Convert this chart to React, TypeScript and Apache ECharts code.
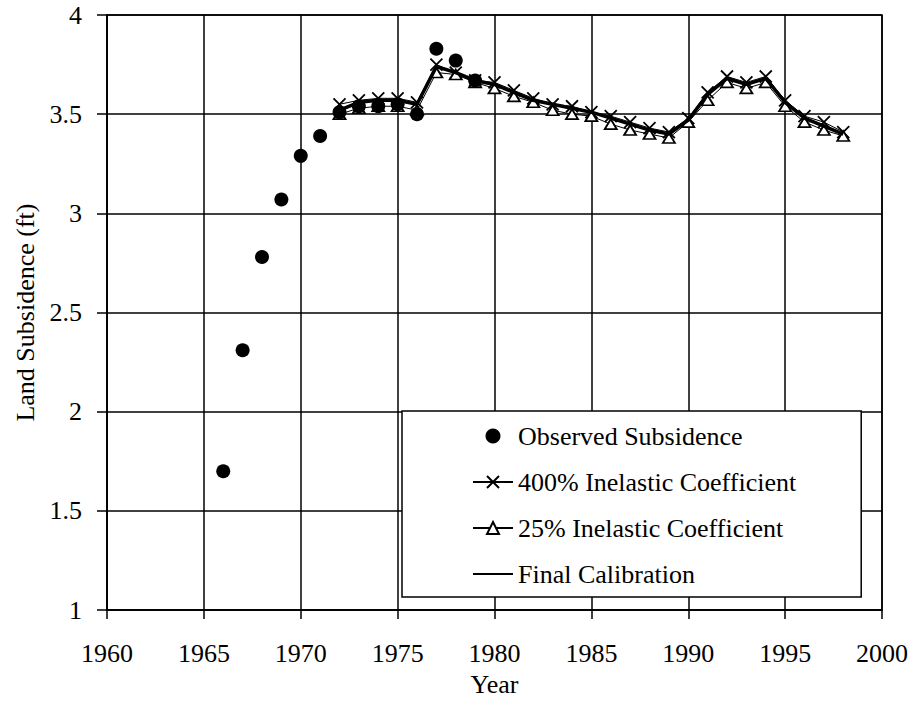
import React, { useEffect, useRef } from "react";
import * as echarts from "echarts";

// Observed land subsidence (ft)
const observedYears = [1966, 1967, 1968, 1969, 1970, 1971, 1972, 1973, 1974, 1975, 1976, 1977, 1978, 1979];
const observedValues = [1.70, 2.31, 2.78, 3.07, 3.29, 3.39, 3.51, 3.54, 3.54, 3.55, 3.50, 3.83, 3.77, 3.67];

// Simulated subsidence, 1972-1998
const modelYears = [
  1972, 1973, 1974, 1975, 1976, 1977, 1978, 1979, 1980, 1981, 1982, 1983, 1984, 1985,
  1986, 1987, 1988, 1989, 1990, 1991, 1992, 1993, 1994, 1995, 1996, 1997, 1998,
];
const finalCalibration = [
  3.52, 3.56, 3.57, 3.57, 3.55, 3.74, 3.71, 3.67, 3.65, 3.61, 3.57, 3.55, 3.53, 3.51,
  3.48, 3.45, 3.42, 3.40, 3.47, 3.60, 3.68, 3.65, 3.68, 3.56, 3.48, 3.44, 3.40,
];
const inelastic400 = [
  3.55, 3.57, 3.58, 3.58, 3.56, 3.75, 3.71, 3.67, 3.66, 3.62, 3.58, 3.55, 3.54, 3.51,
  3.49, 3.46, 3.43, 3.41, 3.48, 3.61, 3.69, 3.66, 3.69, 3.57, 3.49, 3.46, 3.41,
];
const inelastic25 = [
  3.50, 3.53, 3.54, 3.54, 3.52, 3.71, 3.70, 3.66, 3.63, 3.59, 3.56, 3.52, 3.50, 3.49,
  3.45, 3.42, 3.40, 3.38, 3.46, 3.57, 3.66, 3.63, 3.66, 3.54, 3.46, 3.42, 3.39,
];

const FONT = "'Liberation Serif', 'Times New Roman', serif";
const CROSS = "path://M0,0L10,10M10,0L0,10";

const pairs = (xs: number[], ys: number[]) => xs.map((x, i) => [x, ys[i]]);

export default function App() {
  const ref = useRef<HTMLDivElement>(null);

  useEffect(() => {
    if (!ref.current) return;
    const chart = echarts.init(ref.current, undefined, { renderer: "svg" });
    chart.setOption({
      animation: false,
      backgroundColor: "#fff",
      textStyle: { fontFamily: FONT, color: "#000" },
      grid: {
        left: 107,
        right: 33,
        top: 15,
        bottom: 89,
        show: true,
        borderColor: "#000",
        borderWidth: 1.5,
        backgroundColor: "transparent",
      },
      xAxis: {
        type: "value",
        min: 1960,
        max: 2000,
        interval: 5,
        name: "Year",
        nameLocation: "middle",
        nameGap: 57,
        nameTextStyle: { fontFamily: FONT, fontSize: 26, color: "#000" },
        axisLine: { lineStyle: { color: "#000", width: 1.5 } },
        axisTick: { show: true, length: 9, lineStyle: { color: "#000", width: 1.5 } },
        axisLabel: {
          fontFamily: FONT,
          fontSize: 26,
          color: "#000",
          margin: 30,
          formatter: (v: number) => String(v),
        },
        splitLine: { show: true, lineStyle: { color: "#000", width: 1.5 } },
      },
      yAxis: {
        type: "value",
        min: 1,
        max: 4,
        interval: 0.5,
        name: "Land Subsidence (ft)",
        nameLocation: "middle",
        nameGap: 69,
        nameTextStyle: { fontFamily: FONT, fontSize: 26, color: "#000" },
        axisLine: { show: true, lineStyle: { color: "#000", width: 1.5 } },
        axisTick: { show: true, length: 10, lineStyle: { color: "#000", width: 1.5 } },
        axisLabel: { fontFamily: FONT, fontSize: 26, color: "#000", margin: 25 },
        splitLine: { show: true, lineStyle: { color: "#000", width: 1.5 } },
      },
      legend: {
        show: true,
        orient: "vertical",
        left: 402,
        top: 411,
        backgroundColor: "#fff",
        borderColor: "#000",
        borderWidth: 1.5,
        borderRadius: 0,
        padding: [12, 65, 10, 70],
        itemWidth: 40,
        itemHeight: 15,
        itemGap: 20,
        textStyle: { fontFamily: FONT, fontSize: 26, color: "#000" },
        data: [
          { name: "Observed Subsidence" },
          { name: "400% Inelastic Coefficient" },
          { name: "25% Inelastic Coefficient" },
          { name: "Final Calibration", itemStyle: { opacity: 0 }, lineStyle: { width: 2 } },
        ],
      },
      series: [
        {
          name: "400% Inelastic Coefficient",
          type: "line",
          data: pairs(modelYears, inelastic400),
          symbol: CROSS,
          symbolSize: 12,
          showAllSymbol: true,
          lineStyle: { color: "#000", width: 1 },
          itemStyle: { color: "#000", borderColor: "#000", borderWidth: 1.8, opacity: 1 },
          z: 3,
        },
        {
          name: "25% Inelastic Coefficient",
          type: "line",
          data: pairs(modelYears, inelastic25),
          symbol: "triangle",
          symbolSize: [12, 10],
          showAllSymbol: true,
          lineStyle: { color: "#000", width: 1 },
          itemStyle: { color: "#fff", borderColor: "#000", borderWidth: 1.8, opacity: 1 },
          z: 3,
        },
        {
          name: "Final Calibration",
          type: "line",
          data: pairs(modelYears, finalCalibration),
          symbol: "none",
          lineStyle: { color: "#000", width: 3.5 },
          itemStyle: { color: "#000" },
          z: 4,
        },
        {
          name: "Observed Subsidence",
          type: "scatter",
          data: pairs(observedYears, observedValues),
          symbol: "circle",
          symbolSize: 14,
          itemStyle: { color: "#000", opacity: 1 },
          z: 5,
        },
      ],
    });
    return () => chart.dispose();
  }, []);

  return (
    <div
      ref={ref}
      style={{ position: "absolute", left: 0, top: 0, width: 915, height: 702 }}
    />
  );
}
